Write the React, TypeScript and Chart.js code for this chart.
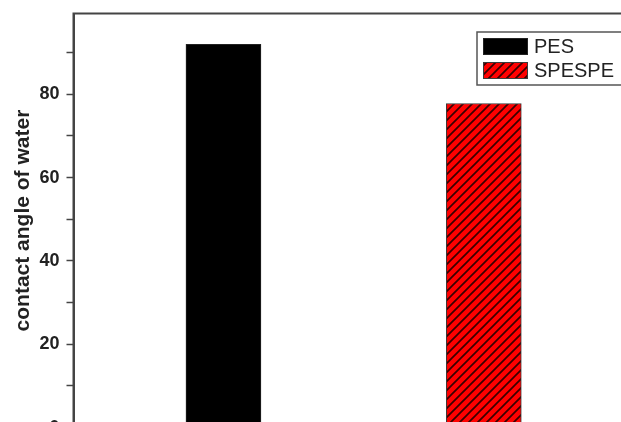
import React, { useEffect, useRef } from 'react';
import { Chart, registerables } from 'chart.js';

Chart.register(...registerables);

// ---- data ----
const categories = ['PES', 'SPESPE'];
const contactAngles = [92.0, 77.8];
const categoryPositions = [1, 2];
const yMin = 0;
const yMax = 99.4;
const yStep = 10;
const yLabelStep = 20;
const xMin = 0.424;
const xMax = 2.6;
const axisTitle = 'contact angle of water';

const FONT = '"Liberation Sans", Arial, sans-serif';

function makeHatch(): CanvasPattern | string {
  const s = 9;
  const c = document.createElement('canvas');
  c.width = s;
  c.height = s;
  const g = c.getContext('2d');
  if (!g) return '#ff0000';
  g.fillStyle = '#ff0000';
  g.fillRect(0, 0, s, s);
  g.strokeStyle = '#3a0000';
  g.lineWidth = 1.7;
  g.beginPath();
  g.moveTo(-1, s + 1);
  g.lineTo(s + 1, -1);
  g.moveTo(-2, 2);
  g.lineTo(2, -2);
  g.moveTo(s - 2, s + 2);
  g.lineTo(s + 2, s - 2);
  g.stroke();
  const p = g.createPattern(c, 'repeat');
  return p || '#ff0000';
}

const framePlugin = {
  id: 'frame',
  afterDraw(chart: any) {
    const { ctx, chartArea } = chart;
    ctx.save();
    ctx.strokeStyle = '#444';
    ctx.lineWidth = 2;
    ctx.strokeRect(chartArea.left, chartArea.top, chartArea.right - chartArea.left, chartArea.bottom - chartArea.top);
    ctx.restore();
  },
};

const boxLegendPlugin = {
  id: 'boxLegend',
  afterDraw(chart: any) {
    const { ctx, chartArea } = chart;
    const datasets = chart.data.datasets;
    const fontSize = 20;
    const swW = 45;
    const swH = 17;
    const rowH = 24;
    const padL = 6;
    const padT = 6;
    const gap = 6;
    const left = chartArea.right - 163;
    const top = chartArea.top + 18.5;
    ctx.save();
    ctx.font = `${fontSize}px ${FONT}`;
    let maxW = 0;
    datasets.forEach((d: any) => {
      maxW = Math.max(maxW, ctx.measureText(d.label).width);
    });
    const w = padL + swW + gap + maxW + 16;
    const h = padT * 2 + rowH * datasets.length - (rowH - swH);
    ctx.fillStyle = '#fff';
    ctx.fillRect(left, top, w, h);
    ctx.strokeStyle = '#555';
    ctx.lineWidth = 1.5;
    ctx.strokeRect(left, top, w, h);
    datasets.forEach((d: any, i: number) => {
      const sx = left + padL;
      const sy = top + padT + i * rowH;
      ctx.fillStyle = d.backgroundColor;
      ctx.fillRect(sx, sy, swW, swH);
      ctx.strokeStyle = d.borderColor;
      ctx.lineWidth = 1;
      ctx.strokeRect(sx + 0.5, sy + 0.5, swW - 1, swH - 1);
      ctx.fillStyle = '#222';
      ctx.textAlign = 'left';
      ctx.textBaseline = 'middle';
      ctx.fillText(d.label, sx + swW + gap, sy + swH / 2 + 1);
    });
    ctx.restore();
  },
};

export default function App() {
  const ref = useRef<HTMLCanvasElement | null>(null);

  useEffect(() => {
    if (!ref.current) return;
    const hatch = makeHatch();
    const fills: any[] = ['#000000', hatch];
    const borders = ['#222222', '#3a3a3a'];
    const chart = new Chart(ref.current, {
      type: 'bar',
      data: {
        datasets: categories.map((label, i) => ({
          label,
          data: [{ x: categoryPositions[i], y: contactAngles[i] }],
          backgroundColor: fills[i],
          borderColor: borders[i],
          borderWidth: 1,
          borderSkipped: false,
          barThickness: 75,
          grouped: false,
        })) as any,
      },
      options: {
        responsive: false,
        devicePixelRatio: 1,
        animation: false,
        layout: { padding: { left: 0, right: 20, top: 13.5, bottom: 32.4 } },
        plugins: {
          legend: { display: false },
          tooltip: { enabled: false },
        },
        scales: {
          x: {
            type: 'linear',
            display: false,
            min: xMin,
            max: xMax,
            offset: false,
          },
          y: {
            type: 'linear',
            min: yMin,
            max: yMax,
            afterBuildTicks: (scale: any) => {
              scale.ticks = scale.ticks.filter(
                (t: any) => Math.abs(t.value / yStep - Math.round(t.value / yStep)) < 1e-6
              );
            },
            afterFit: (scale: any) => {
              scale.width = 73.5;
              scale.paddingTop = 0;
              scale.paddingBottom = 0;
            },
            ticks: {
              stepSize: yStep,
              autoSkip: false,
              padding: 7,
              color: '#222',
              font: { family: FONT, size: 18, weight: 'bold' },
              callback: (v: any) => (Math.round(v) % yLabelStep === 0 ? String(Math.round(v)) : ''),
            },
            grid: {
              drawOnChartArea: false,
              drawTicks: true,
              tickLength: 7,
              tickWidth: 1.5,
              tickColor: '#444',
            },
            border: { display: true, color: '#444', width: 2 },
            title: {
              display: true,
              text: axisTitle,
              color: '#222',
              font: { family: FONT, size: 21, weight: 'bold' },
              padding: { top: 11, bottom: 0 },
            },
          },
        },
      } as any,
      plugins: [framePlugin, boxLegendPlugin],
    });
    return () => chart.destroy();
  }, []);

  return (
    <div style={{ position: 'fixed', left: 0, top: 0, width: 621, height: 422, overflow: 'hidden', background: '#fff' }}>
      <canvas ref={ref} width={660} height={460} style={{ display: 'block', width: 660, height: 460 }} />
    </div>
  );
}
